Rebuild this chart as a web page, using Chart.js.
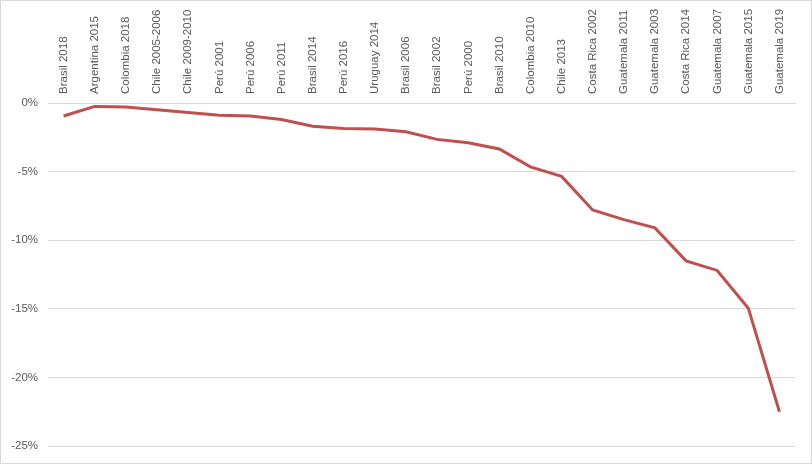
<!DOCTYPE html>
<html>
<head>
<meta charset="utf-8">
<script src="https://cdn.jsdelivr.net/npm/chart.js@4.4.1/dist/chart.umd.min.js"></script>
<style>
  body { margin: 0; background: #fff; }
  .c-chart { width: 810px; height: 462px; border: 1px solid #d9d9d9; position: relative; }
</style>
</head>
<body>
<div class="c-chart"><canvas id="js-chart" width="810" height="462"></canvas></div>
<script>
'use strict';
const categories = [
  'Brasil 2018', 'Argentina 2015', 'Colombia 2018', 'Chile 2005-2006', 'Chile 2009-2010',
  'Perú 2001', 'Perú 2006', 'Perú 2011', 'Brasil 2014', 'Perú 2016', 'Uruguay 2014',
  'Brasil 2006', 'Brasil 2002', 'Perú 2000', 'Brasil 2010', 'Colombia 2010', 'Chile 2013',
  'Costa Rica 2002', 'Guatemala 2011', 'Guatemala 2003', 'Costa Rica 2014',
  'Guatemala 2007', 'Guatemala 2015', 'Guatemala 2019'
];
const values = [
  -0.95, -0.25, -0.3, -0.5, -0.7,
  -0.9, -0.95, -1.2, -1.7, -1.85, -1.9,
  -2.1, -2.65, -2.9, -3.35, -4.65, -5.35,
  -7.8, -8.5, -9.1, -11.5,
  -12.2, -14.95, -22.5
];
const yTicks = [0, -5, -10, -15, -20, -25];

const fontMain = { family: 'Liberation Sans', size: 11.5 };
const textColor = '#595959';

let ctx = document.getElementById('js-chart').getContext('2d');
let myChart = new Chart(ctx, {
  type: 'line',
  data: {
    labels: categories,
    datasets: [
      {
        label: 'Serie',
        data: values,
        borderColor: '#C0504D',
        backgroundColor: 'rgba(0,0,0,0)',
        borderWidth: 3,
        pointRadius: 0,
        tension: 0
      }
    ]
  },
  options: {
    responsive: false,
    animation: false,
    layout: { padding: { left: 0, right: 16, top: 0, bottom: 16 } },
    plugins: { legend: { display: false }, tooltip: { enabled: false } },
    scales: {
      x: {
        position: 'top',
        offset: true,
        grid: { display: false },
        border: { display: true, color: '#d9d9d9', width: 1 },
        ticks: {
          color: textColor,
          font: fontMain,
          minRotation: 90,
          maxRotation: 90,
          autoSkip: false,
          padding: 1,
          labelOffset: 14
        },
        afterFit: function(scale) { scale.height = 102; }
      },
      y: {
        min: -25,
        max: 0,
        grid: { color: '#d9d9d9', lineWidth: 1, drawTicks: false },
        border: { display: false },
        ticks: {
          color: textColor,
          font: fontMain,
          padding: 10,
          stepSize: 5,
          callback: function(v) { return yTicks.includes(v) ? v + '%' : ''; }
        },
        afterFit: function(scale) { scale.width = 47; }
      }
    }
  }
});
</script>
</body>
</html>
